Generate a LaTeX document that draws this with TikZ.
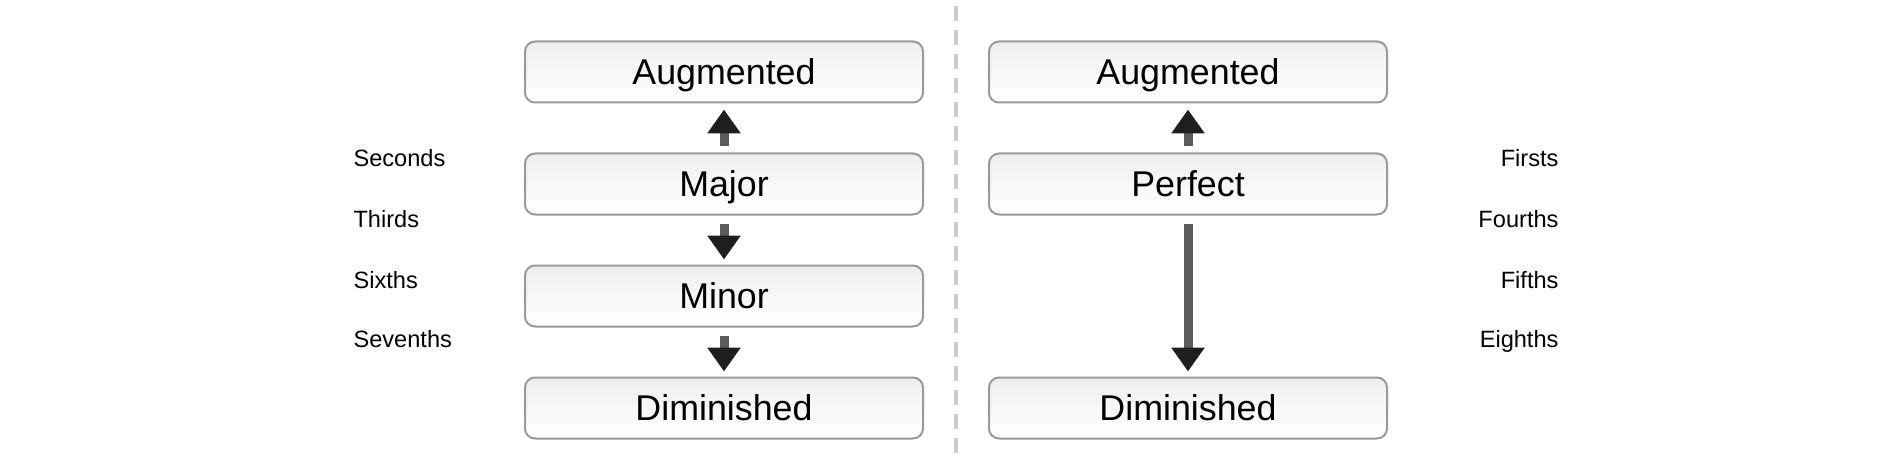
\documentclass[tikz,border=0pt]{standalone}
\usepackage{fontspec}
\setmainfont{Liberation Sans}
\usetikzlibrary{arrows.meta,positioning}
\definecolor{boxEdge}{RGB}{153,153,153}
\definecolor{boxTop}{RGB}{239,239,239}
\definecolor{sepLine}{RGB}{204,204,204}
\tikzset{ivpanel/.style={
  x=1pt, y=-1pt,
  quality/.style={rounded corners=10pt, draw=boxEdge, line width=2pt, top color=boxTop, bottom color=white,
    minimum width=398pt, minimum height=61pt, inner sep=0pt, text height=25pt, text depth=0pt,
    font=\fontsize{35.8}{42}\selectfont},
  flow/.style={line width=9pt, draw=black!64, -{Triangle[width=32pt, length=24pt, color=black!88]}},
  kind/.style={font=\fontsize{23.6}{28}\selectfont},
}}

\begin{document}
\begin{tikzpicture}[ivpanel,
  up/.style={flow, shorten <=6pt, shorten >=6pt},
  down/.style={flow, shorten <=8.5pt, shorten >=5pt},
  sep/.style={draw=sepLine, line width=4pt, dash pattern=on 15pt off 9pt},
]
\useasboundingbox (0,0) rectangle (1889,465);

% ---- left column: major / minor intervals ----
\node[quality] (augL) at (724,72) {Augmented};
\node[quality, below=49pt of augL] (maj)  {Major};
\node[quality, below=49pt of maj]  (minr) {Minor};
\node[quality, below=49pt of minr] (dimL) {Diminished};

% ---- right column: perfect intervals ----
\node[quality, right=64pt of augL] (augR) {Augmented};
\node[quality, right=64pt of maj]  (perf) {Perfect};
\node[quality, right=64pt of dimL] (dimR) {Diminished};

% ---- arrows ----
\draw[up]   (maj)  -- (augL);
\draw[down] (maj)  -- (minr);
\draw[down] (minr) -- (dimL);
\draw[up]   (perf) -- (augR);
\draw[down] (perf) -- (dimR);

% ---- divider ----
\coordinate (sepTop) at (956,6);
\coordinate (sepBot) at (956,453);
\draw[sep] (sepTop) -- (sepBot);

% ---- interval names ----
\node[kind, anchor=base west] (sec) at (350,167) {Seconds};
\node[kind, anchor=base west] (thi) at (350,227) {Thirds};
\node[kind, anchor=base west] (six) at (350,288) {Sixths};
\node[kind, anchor=base west] (sev) at (350,347) {Sevenths};
\node[kind, anchor=base east] (fir) at (1562,167) {Firsts};
\node[kind, anchor=base east] (fou) at (1562,227) {Fourths};
\node[kind, anchor=base east] (fif) at (1562,288) {Fifths};
\node[kind, anchor=base east] (eig) at (1562,347) {Eighths};

\end{tikzpicture}
\end{document}
